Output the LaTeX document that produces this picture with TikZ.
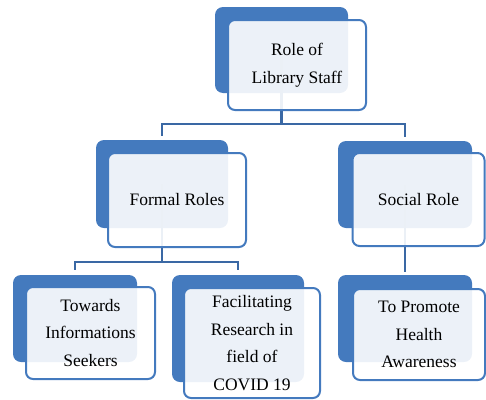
\documentclass[tikz,border=0pt]{standalone}
\usepackage{fontspec}
\setmainfont{Liberation Serif}
\definecolor{backblue}{RGB}{68,122,190}
\definecolor{lineblue}{RGB}{58,104,164}
\tikzset{
  backbox/.style={draw=none,fill=backblue,rounded corners=8pt,inner sep=0pt},
  frontbox/.style={draw=backblue,line width=2pt,fill=white,fill opacity=0.9,text opacity=1,
    rounded corners=7pt,inner sep=0pt,align=center,
    font=\fontsize{17.5}{27.5}\selectfont},
  conn/.style={draw=lineblue,line width=2.4pt}
}
\begin{document}
\begin{tikzpicture}[x=1pt,y=-1pt]
        \useasboundingbox (0,0) rectangle (486,399) ;
        % back boxes
        \node[backbox,minimum width=133pt,minimum height=86pt] (roleB) at (281.5,50) {} ;
        \node[backbox,minimum width=132pt,minimum height=88pt] (formalB) at (162,184) {} ;
        \node[backbox,minimum width=134pt,minimum height=87pt] (socialB) at (405,184.5) {} ;
        \node[backbox,minimum width=124pt,minimum height=87pt] (seekB) at (75,318.5) {} ;
        \node[backbox,minimum width=132pt,minimum height=107pt] (researchB) at (238,328.5) {} ;
        \node[backbox,minimum width=134pt,minimum height=87pt] (healthB) at (405,318.5) {} ;
        % connectors
        \coordinate (j1) at (281.5,124) ;
        \coordinate (j2) at (162,262) ;
        \draw[conn] (roleB.center) -- (j1) ;
        \draw[conn,shorten >=4pt] (j1) -| (formalB.north) ;
        \draw[conn,shorten >=4pt] (j1) -| (socialB.north) ;
        \draw[conn] (formalB.center) -- (j2) ;
        \draw[conn,shorten >=5pt] (j2) -| (seekB.north) ;
        \draw[conn,shorten >=5pt] (j2) -| (researchB.north) ;
        \draw[conn,shorten >=3pt] (socialB.center) -- (healthB.north) ;
        % front boxes
        \node[frontbox,minimum width=138pt,minimum height=90pt] (role) at (297,65)
        {Role of\\Library Staff} ;
        \node[frontbox,minimum width=138pt,minimum height=94pt] (formal) at (177,200)
        {Formal Roles} ;
        \node[frontbox,minimum width=132pt,minimum height=93pt] (social) at (418.5,199.5)
        {Social Role} ;
        \node[frontbox,minimum width=129pt,minimum height=92pt] (seek) at (90.5,333)
        {Towards\\Informations\\Seekers} ;
        \node[frontbox,minimum width=136pt,minimum height=110pt] (research) at (252,343)
        {Facilitating\\Research in\\field of\\COVID 19} ;
        \node[frontbox,minimum width=132pt,minimum height=91pt] (health) at (419,334.5)
        {To Promote\\Health\\Awareness} ;
      \end{tikzpicture}
\end{document}
